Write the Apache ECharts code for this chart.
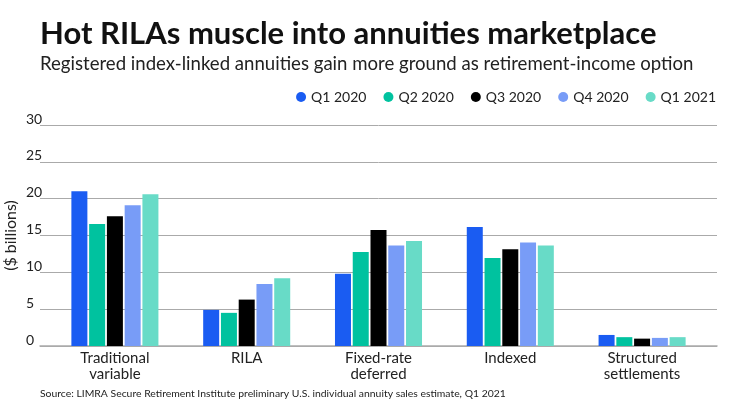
<!DOCTYPE html>
<html>
<head>
<meta charset="utf-8">
<script src="https://cdn.jsdelivr.net/npm/echarts@6/dist/echarts.min.js"></script>
<style>
html,body{margin:0;padding:0;background:#fff;}
#c{width:740px;height:416px;}
</style>
</head>
<body>
<div id="c"></div>
<script>
const categories = ['Traditional\nvariable', 'RILA', 'Fixed-rate\ndeferred', 'Indexed', 'Structured\nsettlements'];
const seriesNames = ['Q1 2020', 'Q2 2020', 'Q3 2020', 'Q4 2020', 'Q1 2021'];
const q1_2020 = [21.0, 4.9, 9.8, 16.15, 1.5];
const q2_2020 = [16.55, 4.5, 12.75, 11.95, 1.2];
const q3_2020 = [17.6, 6.3, 15.75, 13.15, 1.0];
const q4_2020 = [19.1, 8.4, 13.65, 14.05, 1.1];
const q1_2021 = [20.6, 9.2, 14.25, 13.65, 1.2];
const yTicks = [0, 5, 10, 15, 20, 25, 30];
const colors = ['#1a5cf2', '#00c29f', '#000000', '#789cf7', '#68dbc7'];
const seriesData = [q1_2020, q2_2020, q3_2020, q4_2020, q1_2021];

const FONT = 'Lato';
const chart = echarts.init(document.getElementById('c'), null, {renderer: 'canvas'});

const series = seriesNames.map((n, i) => ({
  name: n,
  type: 'bar',
  xAxisIndex: 0,
  yAxisIndex: 0,
  data: seriesData[i],
  barWidth: 16,
  barGap: '11%',
  itemStyle: {color: colors[i]},
  emphasis: {disabled: true}
}));

chart.setOption({
  animation: false,
  color: colors,
  textStyle: {fontFamily: FONT},
  title: [
    {
      text: 'Hot RILAs muscle into annuities marketplace',
      left: 40, top: 18, padding: 0,
      textStyle: {fontFamily: FONT, fontSize: 31, fontWeight: 'bold', color: '#111', lineHeight: 31}
    },
    {
      text: 'Registered index-linked annuities gain more ground as retirement-income option',
      left: 40, top: 55, padding: 0,
      textStyle: {fontFamily: FONT, fontSize: 18.6, fontWeight: 'normal', color: '#222', lineHeight: 18}
    },
    {
      text: 'Source: LIMRA Secure Retirement Institute preliminary U.S. individual annuity sales estimate, Q1 2021',
      left: 40, top: 388, padding: 0,
      textStyle: {fontFamily: FONT, fontSize: 10.4, fontWeight: 'normal', color: '#222', lineHeight: 11}
    }
  ],
  legend: {
    data: seriesNames,
    right: 24, top: 90, padding: 0,
    icon: 'circle',
    itemWidth: 10, itemHeight: 10,
    itemGap: 17,
    textStyle: {fontFamily: FONT, fontSize: 14, color: '#222'},
    selectedMode: false
  },
  grid: [
    {left: 49, right: 32, top: 125, bottom: 70, containLabel: false, outerBoundsMode: 'none'},
    {left: 40, right: 23, top: 125, bottom: 70, containLabel: false, outerBoundsMode: 'none'}
  ],
  xAxis: [
    {
      type: 'category', gridIndex: 0, data: categories,
      axisLine: {show: false}, axisTick: {show: false},
      axisLabel: {fontFamily: FONT, fontSize: 15, color: '#222', lineHeight: 16, margin: 4, interval: 0}
    },
    {
      type: 'value', gridIndex: 1, min: 0, max: 1,
      axisLine: {show: true, lineStyle: {color: '#aaa', width: 1.5}},
      axisTick: {show: false}, axisLabel: {show: false}, splitLine: {show: false}
    }
  ],
  yAxis: [
    {
      type: 'value', gridIndex: 0, min: 0, max: 30, interval: 5,
      axisLine: {show: false}, axisTick: {show: false},
      axisLabel: {show: false}, splitLine: {show: false}
    },
    {
      type: 'value', gridIndex: 1, min: yTicks[0], max: yTicks[yTicks.length - 1], interval: 5,
      name: '($ billions)', nameLocation: 'middle', nameRotate: 90, nameGap: 21,
      nameMoveOverlap: false,
      nameTextStyle: {fontFamily: FONT, fontSize: 16, color: '#222'},
      axisLine: {show: false}, axisTick: {show: false},
      axisLabel: {fontFamily: FONT, fontSize: 14, color: '#222', align: 'left', verticalAlign: 'bottom', margin: 14, lineHeight: 12},
      splitLine: {lineStyle: {color: '#aaa', width: 1}}
    }
  ],
  series: series
});
</script>
</body>
</html>
